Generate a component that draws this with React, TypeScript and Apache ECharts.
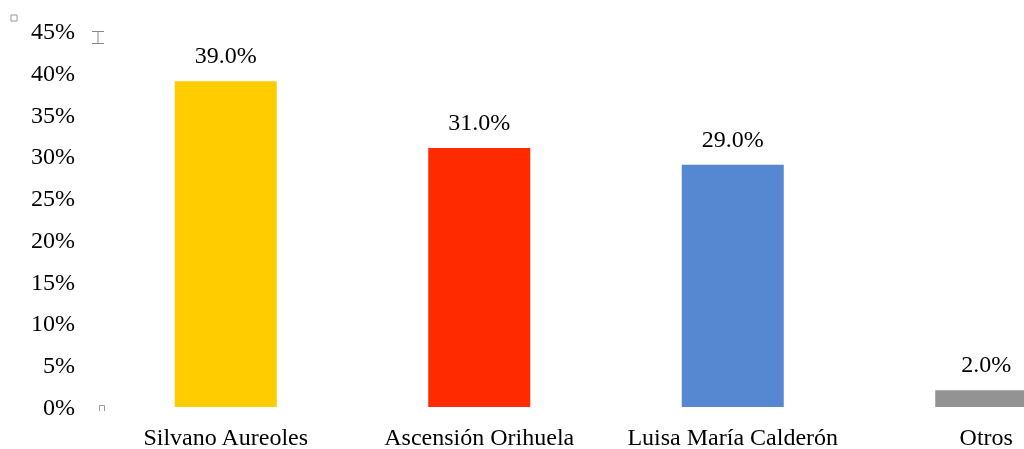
import React, { useEffect, useRef } from "react";
import * as echarts from "echarts";

const categories = ["Silvano Aureoles", "Ascensión Orihuela", "Luisa María Calderón", "Otros"];
const values = [39.0, 31.0, 29.0, 2.0];
const barColors = ["#FFCC00", "#FF2A00", "#5588D1", "#939393"];
const yTicks = [0, 5, 10, 15, 20, 25, 30, 35, 40, 45];

const FONT = "'Liberation Serif', 'Times New Roman', serif";

export default function App() {
  const ref = useRef<HTMLDivElement>(null);
  useEffect(() => {
    if (!ref.current) return;
    const chart = echarts.init(ref.current, undefined, { renderer: "svg" });
    chart.setOption({
      animation: false,
      grid: { left: 99, right: 0, top: 31, bottom: 41, containLabel: false },
      xAxis: {
        type: "category",
        data: categories,
        axisLine: { show: false },
        axisTick: { show: false },
        axisLabel: { color: "#000", fontFamily: FONT, fontSize: 24, margin: 18, interval: 0 },
      },
      yAxis: {
        type: "value",
        min: yTicks[0],
        max: yTicks[yTicks.length - 1],
        interval: 5,
        splitLine: { show: false },
        axisLine: { show: false },
        axisTick: { show: false },
        axisLabel: {
          color: "#000",
          fontFamily: FONT,
          fontSize: 24,
          margin: 24,
          formatter: (v: number) => `${v}%`,
        },
      },
      series: [
        {
          type: "bar",
          barWidth: 102,
          data: values.map((v, i) => ({ value: v, itemStyle: { color: barColors[i] } })),
          label: {
            show: true,
            position: "top",
            distance: 14,
            color: "#000",
            fontFamily: FONT,
            fontSize: 24,
            formatter: (p: any) => `${Number(p.value).toFixed(1)}%`,
          },
        },
      ],
      graphic: [
        { type: "rect", shape: { x: 11, y: 15, width: 6, height: 6 }, style: { fill: "none", stroke: "#999", lineWidth: 1 } },
        { type: "line", shape: { x1: 92, y1: 31.5, x2: 104, y2: 31.5 }, style: { stroke: "#888", lineWidth: 1 } },
        { type: "line", shape: { x1: 92, y1: 43.5, x2: 104, y2: 43.5 }, style: { stroke: "#888", lineWidth: 1 } },
        { type: "line", shape: { x1: 98, y1: 31.5, x2: 98, y2: 43.5 }, style: { stroke: "#888", lineWidth: 1 } },
        { type: "polyline", shape: { points: [[99.5, 411], [99.5, 405.5], [104.5, 405.5], [104.5, 411]] }, style: { fill: "none", stroke: "#999", lineWidth: 1 } },
      ],
    });
    return () => chart.dispose();
  }, []);
  return (
    <div style={{ position: "fixed", left: 0, top: 0, width: 1024, height: 449, overflow: "hidden" }}>
      <div ref={ref} style={{ width: 1113, height: 449 }} />
    </div>
  );
}
